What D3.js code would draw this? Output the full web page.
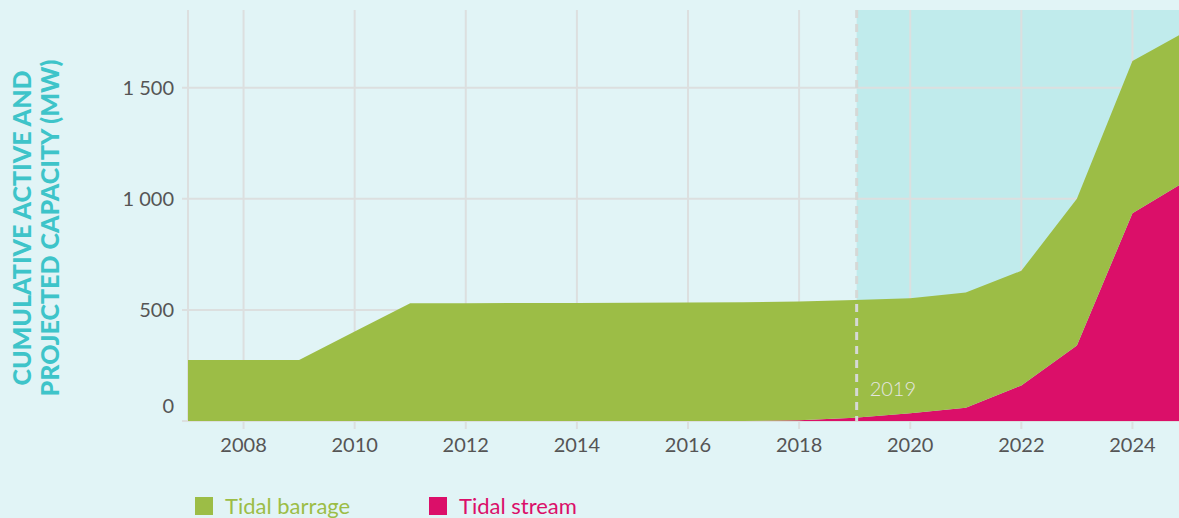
<!DOCTYPE html>
<html>
<head>
<meta charset="utf-8">
<script src="https://cdnjs.cloudflare.com/ajax/libs/d3/7.8.5/d3.min.js"></script>
<style>
  html, body { margin: 0; padding: 0; background: #e1f4f6; overflow: hidden; }
  svg { display: block; font-family: Lato, 'Open Sans', sans-serif; }
</style>
</head>
<body>
<div id="chart"></div>
<script>
var years = [2007, 2008, 2009, 2010, 2011, 2012, 2013, 2014, 2015, 2016,
             2017, 2018, 2019, 2020, 2021, 2022, 2023, 2024, 2025];
var tidalStream = [0, 0, 0, 0, 0, 0, 0, 0, 0, 0,
                   0, 3, 15, 35, 60, 160, 340, 935, 1085];
var tidalBarrage = [275, 275, 275, 403, 530, 530, 531, 531, 532, 533,
                    535, 535, 530, 518, 518, 516, 660, 686, 673];
var seriesNames = ['Tidal stream', 'Tidal barrage'];
var xTicks = [2008, 2010, 2012, 2014, 2016, 2018, 2020, 2022, 2024];
var yTicks = [0, 500, 1000, 1500];
var projectionStart = 2019;

var svgWidth = 1179;
var svgHeight = 518;
var margin = { top: 10, left: 188, bottom: 97 };
var plotRight = 1188; // 2025 falls just past the window edge

var colors = { 'Tidal stream': '#db0f69', 'Tidal barrage': '#9cbd46' };
var gridColor = '#dcdfdf';

var rows = years.map(function(y, i) {
  return { year: y, 'Tidal stream': tidalStream[i], 'Tidal barrage': tidalBarrage[i] };
});

var x = d3.scaleLinear()
  .domain([2007, 2025])
  .range([margin.left, plotRight]);

var y = d3.scaleLinear()
  .domain([0, 1850])
  .range([svgHeight - margin.bottom, margin.top]);

var fmt = d3.formatLocale({ decimal: '.', thousands: '\u00a0', grouping: [3], currency: ['', ''] }).format(',d');

var svg = d3.select('#chart')
  .append('svg')
  .attr('width', svgWidth)
  .attr('height', svgHeight);

// projected zone
var markX = x(projectionStart) + 2;
svg.append('rect')
  .attr('x', markX)
  .attr('y', y.range()[1])
  .attr('width', plotRight - markX)
  .attr('height', y(0) - y.range()[1])
  .attr('fill', '#c0ebec');

// grid
var grid = svg.append('g').attr('stroke', gridColor).attr('stroke-width', 2);
grid.selectAll('.vgrid')
  .data(xTicks)
  .enter()
  .append('line')
  .attr('x1', function(d) { return x(d); })
  .attr('x2', function(d) { return x(d); })
  .attr('y1', y.range()[1])
  .attr('y2', y(0) + 8);
grid.selectAll('.hgrid')
  .data(yTicks)
  .enter()
  .append('line')
  .attr('x1', margin.left - 6)
  .attr('x2', plotRight)
  .attr('y1', function(d) { return y(d); })
  .attr('y2', function(d) { return y(d); });
grid.append('line')
  .attr('x1', margin.left)
  .attr('x2', margin.left)
  .attr('y1', y.range()[1])
  .attr('y2', y(0));

// stacked areas
var stack = d3.stack().keys(seriesNames);
var area = d3.area()
  .x(function(d) { return x(d.data.year); })
  .y0(function(d) { return y(d[0]); })
  .y1(function(d) { return y(d[1]); });

svg.selectAll('.layer')
  .data(stack(rows))
  .enter()
  .append('path')
  .attr('class', 'layer')
  .attr('d', area)
  .attr('fill', function(d) { return colors[d.key]; });

// 2019 marker
svg.append('line')
  .attr('x1', markX)
  .attr('x2', markX)
  .attr('y1', y.range()[1])
  .attr('y2', y(0))
  .attr('stroke', '#d6d8d6')
  .attr('stroke-width', 3)
  .attr('stroke-dasharray', '8,6');

svg.append('text')
  .attr('x', markX + 13)
  .attr('y', y(0) - 25)
  .attr('fill', '#e4e6e0')
  .style('font-size', '20px')
  .style('font-weight', 300)
  .text(projectionStart);

// tick labels
svg.selectAll('.xlab')
  .data(xTicks)
  .enter()
  .append('text')
  .attr('x', function(d) { return x(d); })
  .attr('y', y(0) + 31)
  .attr('text-anchor', 'middle')
  .attr('fill', '#555')
  .style('font-size', '20px')
  .text(function(d) { return d; });

svg.selectAll('.ylab')
  .data(yTicks)
  .enter()
  .append('text')
  .attr('x', margin.left - 14)
  .attr('y', function(d) { return d === 0 ? y(d) - 8 : y(d) + 7; })
  .attr('text-anchor', 'end')
  .attr('fill', '#555')
  .style('font-size', '20px')
  .text(function(d) { return fmt(d); });

// axis title
var title = svg.append('text')
  .attr('transform', 'translate(31,228) rotate(-90)')
  .attr('text-anchor', 'middle')
  .attr('fill', '#3ec4c9')
  .style('font-size', '25px')
  .style('font-weight', 900);
title.append('tspan').attr('x', 0).attr('y', 0).text('CUMULATIVE ACTIVE AND');
title.append('tspan').attr('x', 0).attr('y', 28).text('PROJECTED CAPACITY (MW)');

// legend
var legendItems = [
  { name: 'Tidal barrage', x: 195 },
  { name: 'Tidal stream', x: 429 }
];
var legend = svg.selectAll('.legend')
  .data(legendItems)
  .enter()
  .append('g')
  .attr('class', 'legend')
  .attr('transform', function(d) { return 'translate(' + d.x + ',497)'; });

legend.append('rect')
  .attr('width', 18)
  .attr('height', 18)
  .attr('fill', function(d) { return colors[d.name]; });

legend.append('text')
  .attr('x', 30)
  .attr('y', 17)
  .attr('fill', function(d) { return colors[d.name]; })
  .style('font-size', '22px')
  .text(function(d) { return d.name; });
</script>
</body>
</html>
